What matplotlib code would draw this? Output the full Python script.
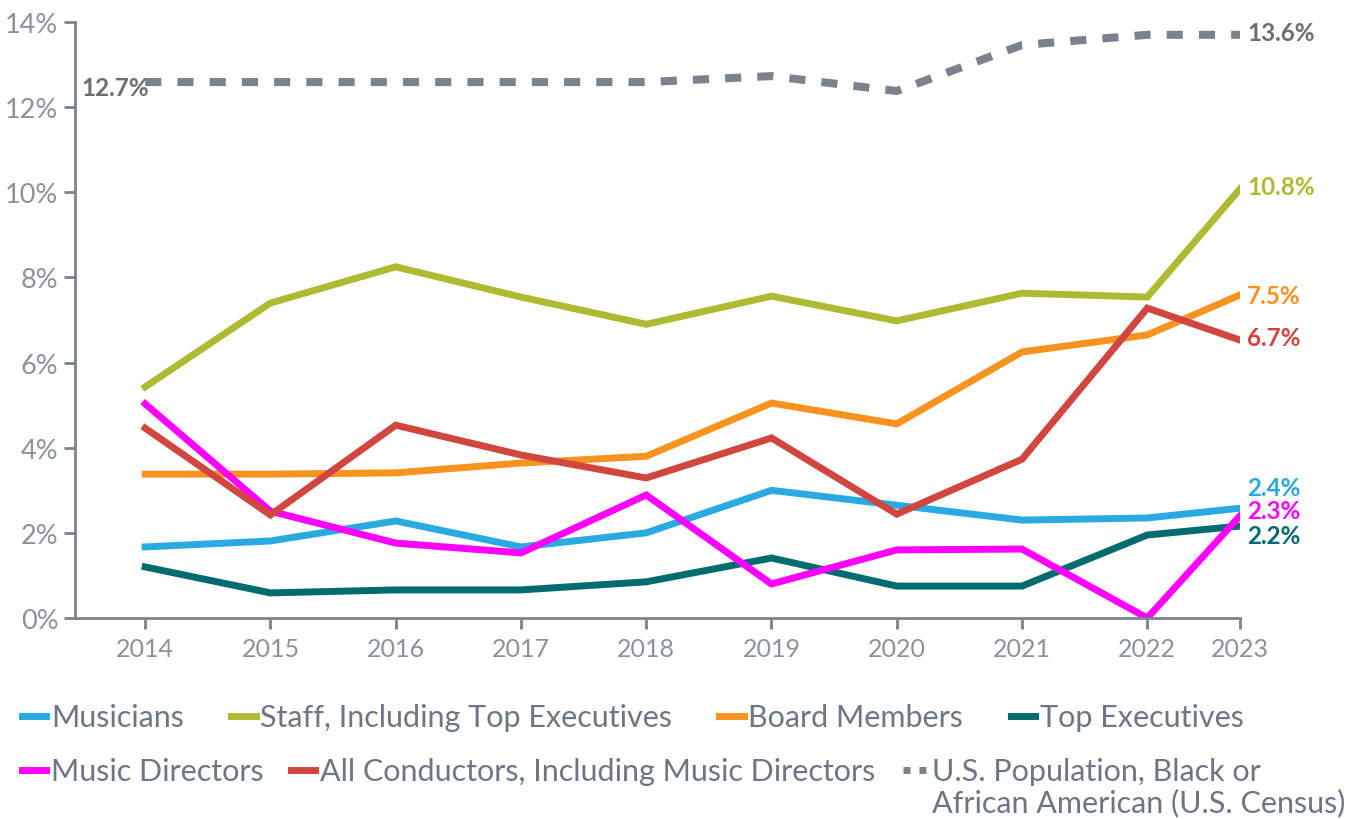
import matplotlib
matplotlib.use("Agg")
import matplotlib.pyplot as plt
from matplotlib.lines import Line2D
from matplotlib.ticker import FuncFormatter

plt.rcParams['font.family'] = ['Lato', 'DejaVu Sans']

# data (percent)
years = ["2014", "2015", "2016", "2017", "2018", "2019", "2020", "2021", "2022", "2023"]
x_pos = [2014, 2015, 2016, 2017, 2018, 2019, 2020, 2021, 2022, 2022.74]

musicians = [1.67, 1.81, 2.28, 1.67, 2.0, 3.0, 2.65, 2.3, 2.35, 2.58]
staff = [5.43, 7.4, 8.25, 7.54, 6.9, 7.56, 6.98, 7.63, 7.54, 10.08]
board = [3.38, 3.38, 3.41, 3.64, 3.8, 5.05, 4.56, 6.25, 6.65, 7.59]
top_exec = [1.2, 0.59, 0.66, 0.66, 0.85, 1.41, 0.75, 0.75, 1.95, 2.16]
music_dir = [5.03, 2.51, 1.76, 1.53, 2.89, 0.8, 1.6, 1.62, 0.0, 2.4]
conductors = [4.46, 2.42, 4.53, 3.83, 3.29, 4.23, 2.44, 3.73, 7.28, 6.53]
census = [12.59, 12.59, 12.59, 12.59, 12.59, 12.73, 12.38, 13.46, 13.7, 13.7]

end_labels = ["2.4%", "10.8%", "7.5%", "2.2%", "2.3%", "6.7%", "13.6%"]

names = ["Musicians", "Staff, Including Top Executives", "Board Members", "Top Executives",
         "Music Directors", "All Conductors, Including Music Directors",
         "U.S. Population, Black or", "African American (U.S. Census)"]
colors = ["#29abe2", "#afba33", "#f7931e", "#006c6f", "#ff00ff", "#d1463f", "#7a828c"]
series = [musicians, staff, board, top_exec, music_dir, conductors, census]
# vertical nudge of the end labels, in points
nudges = [15, 1.5, -0.5, -7, 3.5, 2, 2]

fig = plt.figure(figsize=(13.62, 8.2), dpi=100)
ax = fig.add_axes([0.0551, 0.2451, 0.8553, 0.7268])

for i, (vals, c) in enumerate(zip(series, colors)):
    if i == 6:
        ax.plot(x_pos, vals, color=c, lw=5.8, ls=(0, (2, 2)), solid_capstyle='butt')
    else:
        ax.plot(x_pos, vals, color=c, lw=5, solid_joinstyle='miter')
    lab_c = "#6d6e70" if i == 6 else c
    ax.annotate(end_labels[i], xy=(x_pos[-1], vals[-1]), xytext=(5, nudges[i]),
                textcoords='offset points', ha='left', va='center',
                fontsize=17.5, fontweight='bold', color=lab_c)

ax.annotate("12.7%", xy=(x_pos[0], census[0]), xytext=(3, -4), textcoords='offset points',
            ha='right', va='center', fontsize=17.5, fontweight='bold', color="#6d6e70")

ax.set_xlim(2013.44, 2022.74)
ax.set_ylim(0, 14)
ax.set_xticks(x_pos)
ax.set_xticklabels(years)
ax.set_yticks(range(0, 15, 2))
ax.yaxis.set_major_formatter(FuncFormatter(lambda v, p: f"{v:.0f}%"))

gray = "#7b838d"
for s in ["top", "right"]:
    ax.spines[s].set_visible(False)
for s in ["left", "bottom"]:
    ax.spines[s].set_color(gray)
    ax.spines[s].set_linewidth(2)
ax.tick_params(axis='both', colors=gray, width=2, length=8, labelcolor="#8a929c")
ax.tick_params(axis='x', pad=6, labelsize=18)
ax.tick_params(axis='y', pad=4, labelsize=19.5)

# legend handles: short thick bars, dotted squares for the census line
handles = [Line2D([], [], color=c, lw=5) for c in colors[:6]]
handles.append(Line2D([], [], color=colors[6], lw=5, ls=(0, (1, 1.3)), solid_capstyle='butt'))

fs = 22
leg_kw = dict(frameon=False, fontsize=fs, handlelength=0.8, handletextpad=0.15,
              labelcolor="#6d7783", borderaxespad=0, borderpad=0)
fig.legend(handles[:4], names[:4], ncol=4, loc='center left', columnspacing=1.55,
           bbox_to_anchor=(0.016, 0.124), **leg_kw)
leg2 = fig.legend(handles[4:], names[4:7], ncol=3, loc='center left', columnspacing=0.9,
                  bbox_to_anchor=(0.016, 0.058), **leg_kw)

# second line of the census label, set right under the first one
fig.canvas.draw()
bb = leg2.get_texts()[2].get_window_extent()
W, H = fig.get_size_inches() * fig.dpi
fig.text(bb.x0 / W, (bb.y0 - 31) / H, names[7], fontsize=fs, color="#6d7783",
         ha='left', va='bottom')

fig.savefig("out.png", dpi=100)
